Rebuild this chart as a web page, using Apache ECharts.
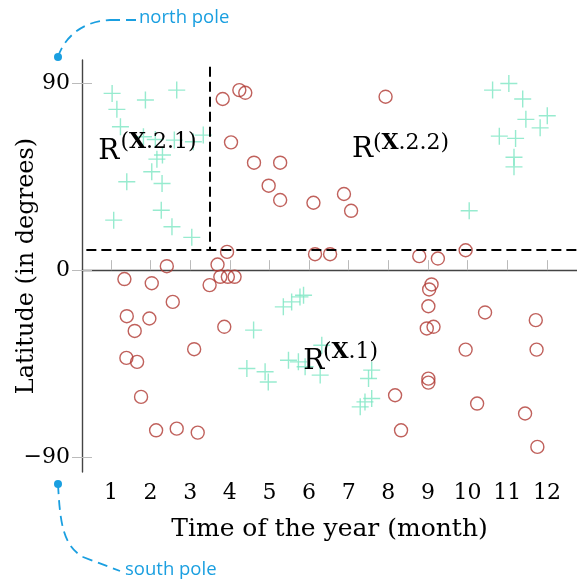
<!DOCTYPE html>
<html>
<head>
<meta charset="utf-8">
<script src="https://cdn.jsdelivr.net/npm/echarts@6/dist/echarts.min.js"></script>
<style>html,body{margin:0;padding:0;background:#fff}#c{width:577px;height:581px}</style>
</head>
<body>
<div id="c"></div>
<script>
// ---- data ----
var monthTicks = [1,2,3,4,5,6,7,8,9,10,11,12];
var latTicks = [-90, 0, 90];
// R^(X.1) group and R^(X.2.x) groups: [month, latitude]
var crossPoints = [
  [1.03,85.2],[1.15,77.5],[1.87,82],[2.66,86.8],[1.24,69.1],[1.82,64.3],[2.12,63.0],[2.60,62.7],
  [3.08,61.9],[3.33,65.1],[2.16,53.5],[2.30,55.5],[2.03,47.4],[1.40,42.6],[2.29,41.8],[2.27,28.9],
  [1.07,24.1],[2.54,20.9],[3.04,15.8],
  [10.04,28.6],[10.63,86.8],[11.04,90],[11.39,82.5],[11.47,72.7],[12.01,74.4],[11.83,68.6],
  [10.80,64.6],[11.21,63.5],[11.17,54.4],[11.17,49.8],
  [5.35,-17.7],[5.56,-15.3],[5.77,-12.9],[5.86,-12.1],[4.60,-28.9],[4.43,-47.4],[4.89,-49.0],
  [4.97,-53.9],[5.48,-43.4],[5.73,-44.2],[5.90,-46.6],[6.32,-36.2],[6.28,-50.6],[7.58,-48.2],
  [7.50,-52.2],[7.58,-61.9],[7.41,-63.5],[7.29,-65.9]
];
var circlePoints = [
  [3.82,82.5],[4.24,86.8],[4.39,85.5],[4.03,61.6],[4.61,51.8],[5.27,51.8],[4.98,40.7],[5.27,33.8],
  [7.93,83.6],[6.11,32.5],[6.88,36.7],[7.06,28.6],[3.93,8.8],[6.15,7.7],[6.53,7.7],[8.78,6.75],
  [9.25,5.6],[9.95,9.6],
  [3.69,2.7],[2.41,1.9],[1.34,-4.3],[2.03,-6.3],[3.76,-3.2],[3.95,-3.2],[4.12,-3.2],[3.49,-7.2],
  [2.56,-15.3],[1.40,-22.2],[1.97,-23.3],[1.60,-29.3],[3.86,-27.3],[3.10,-38.1],[1.39,-42.3],
  [1.66,-44.2],[1.76,-61.1],[2.14,-77.2],[2.66,-76.4],[3.19,-78.3],
  [9.09,-6.9],[9.03,-9.3],[9.01,-17.4],[8.97,-28.1],[9.14,-27.3],[10.44,-20.4],[11.72,-24.1],
  [9.95,-38.3],[11.74,-38.3],[9.01,-52.3],[9.01,-54.2],[8.17,-60.3],[10.24,-64.3],[11.45,-69.1],
  [8.32,-77.2],[11.76,-85.2]
];
var splitLat = 10;
var splitMonth = 3.5;

var SERIF = 'DejaVu Serif';
var BLUE = '#1a9fe0';
var chart = echarts.init(document.getElementById('c'), null, {renderer:'canvas'});
function latFmt(v){ return v < 0 ? '\u2212' + Math.abs(v) : String(v); }
var supRich = { b: { fontFamily: SERIF, fontWeight: 'bold', fontSize: 22, color: '#000' } };
function rLabel(coord){ return { coord: coord, symbolSize: 0, label: { show: true, position: 'right', distance: 0, formatter: 'R', fontFamily: SERIF, fontSize: 28, color: '#000' } }; }
function sLabel(coord, txt){ return { coord: coord, symbolSize: 0, label: { show: true, position: 'right', distance: 0, formatter: '(' + '{b|X}' + txt + ')', fontFamily: SERIF, fontSize: 22, color: '#000', rich: supRich } }; }
var dashStyle = { fill: null, stroke: BLUE, lineWidth: 1.8, lineDash: [10,6] };

chart.setOption({
  animation: false,
  backgroundColor: '#fff',
  grid: { left: 82, top: 60, right: 0, bottom: 109, containLabel: false, outerBoundsMode: 'none' },
  xAxis: {
    type: 'value', min: 0.27, max: 12.76,
    axisLine: { show: true, lineStyle: { color: '#444', width: 1.4 } },
    axisTick: { show: true, inside: true, length: 10, customValues: monthTicks, lineStyle: { color: '#bbb', width: 1 } },
    axisLabel: { show: true, customValues: monthTicks, margin: 10, fontFamily: SERIF, fontSize: 22, color: '#000' },
    splitLine: { show: false },
    name: 'Time of the year (month)', nameLocation: 'middle', nameGap: 45,
    nameTextStyle: { fontFamily: SERIF, fontSize: 25, color: '#000' }
  },
  yAxis: [{
    type: 'value', min: -97.3, max: 101.3,
    axisLine: { show: true, lineStyle: { color: '#444', width: 1.4 } },
    axisTick: { show: true, inside: false, length: 10, customValues: latTicks, lineStyle: { color: '#bbb', width: 1 } },
    axisLabel: { show: true, customValues: latTicks, margin: 12, fontFamily: SERIF, fontSize: 22, color: '#000', formatter: latFmt },
    splitLine: { show: false }
  }, {
    type: 'value', min: -97.3, max: 101.3, position: 'left',
    axisLine: { show: false },
    axisTick: { show: true, inside: true, length: 10, customValues: latTicks, lineStyle: { color: '#bbb', width: 1 } },
    axisLabel: { show: false },
    splitLine: { show: false }
  }],
  series: [
    {
      type: 'scatter', name: 'R(X.2)', data: circlePoints, symbol: 'circle', symbolSize: 13,
      itemStyle: { color: 'rgba(0,0,0,0)', borderColor: '#b03a33', borderWidth: 1.4 },
      silent: true
    },
    {
      type: 'scatter', name: 'R(X.1)', data: crossPoints, symbol: 'path://M0,8L16,8M8,0L8,16', symbolSize: 17,
      itemStyle: { color: 'none', borderColor: '#7de6c3', borderWidth: 1.4 },
      silent: true
    },
    {
      type: 'scatter', name: 'partition', data: [], silent: true,
      markLine: {
        silent: true, symbol: ['none','none'], animation: false,
        label: { show: false },
        lineStyle: { color: '#000', type: [10,5], width: 2 },
        data: [
          [{ coord: [0.38, splitLat] }, { coord: [12.76, splitLat] }],
          [{ coord: [splitMonth, 98] }, { coord: [splitMonth, splitLat] }]
        ]
      },
      markPoint: {
        silent: true, symbol: 'circle', symbolSize: 0, animation: false,
        data: [
          rLabel([0.68, 57.0]), sLabel([1.24, 61.7], '.2.1'),
          rLabel([7.08, 58.0]), sLabel([7.61, 61.3], '.2.2'),
          rLabel([5.85, -44.3]), sLabel([6.35, -39.6], '.1')
        ]
      }
    }
  ],
  graphic: [
    { type: 'text', x: 27, y: 266, rotation: Math.PI/2,
      style: { text: 'Latitude (in degrees)', fontFamily: SERIF, fontSize: 24, fill: '#000', align: 'center', verticalAlign: 'middle' } },
    { type: 'circle', shape: { cx: 58, cy: 57, r: 4 }, style: { fill: BLUE } },
    { type: 'bezierCurve', shape: { x1: 58, y1: 57, cpx1: 64, cpy1: 38, cpx2: 82, cpy2: 21, x2: 110, y2: 20 }, style: dashStyle },
    { type: 'line', shape: { x1: 110, y1: 20, x2: 136, y2: 20 }, style: dashStyle },
    { type: 'text', x: 139, y: 18, style: { text: 'north pole', fontFamily: 'Open Sans', fontSize: 18.5, fill: BLUE, align: 'left', verticalAlign: 'middle' } },
    { type: 'circle', shape: { cx: 58, cy: 484, r: 4 }, style: { fill: BLUE } },
    { type: 'bezierCurve', shape: { x1: 58, y1: 484, cpx1: 60, cpy1: 520, cpx2: 62, cpy2: 545, x2: 83, y2: 557 }, style: dashStyle },
    { type: 'line', shape: { x1: 83, y1: 557, x2: 120, y2: 571 }, style: dashStyle },
    { type: 'text', x: 125, y: 570, style: { text: 'south pole', fontFamily: 'Open Sans', fontSize: 18.5, fill: BLUE, align: 'left', verticalAlign: 'middle' } }
  ]
});
</script>
</body>
</html>
